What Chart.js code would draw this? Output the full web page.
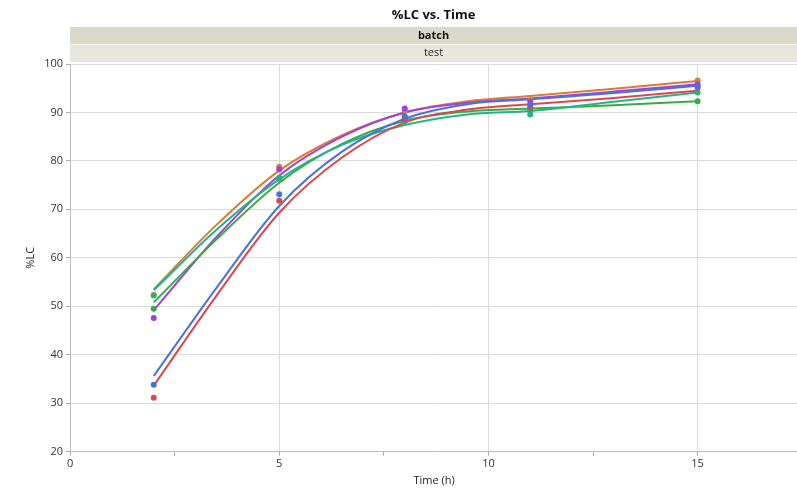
<!DOCTYPE html>
<html>
<head>
<meta charset="utf-8">
<script src="https://cdn.jsdelivr.net/npm/chart.js@4"></script>
<style>
  html, body { margin: 0; padding: 0; background: #fff; overflow: hidden; }
  #wrap { width: 802px; height: 488px; }
</style>
</head>
<body>
<div id="wrap"><canvas id="chart"></canvas></div>
<script>
// sample times (h)
const times = [2, 5, 8, 11, 15];

// measured %LC per batch
const bluePts   = [33.8, 73.1, 89.2, 91.5, 95.4];
const redPts    = [31.1, 71.8, 88.5, 91.0, 95.1];
const tealPts   = [52.2, 76.5, 88.2, 89.6, 94.1];
const greenPts  = [49.5, 76.3, 88.8, 90.4, 92.3];
const purplePts = [47.6, 78.3, 90.8, 92.2, 95.8];
const orangePts = [52.3, 78.8, 90.4, 92.5, 96.6];

// fitted curves
const fitTimes  = [2, 3.5, 5, 6.5, 8, 9.5, 11, 13, 15];
const blueFit   = [35.6, 53.8, 70.7, 81.9, 88.7, 91.7, 92.7, 94.0, 95.5];
const redFit    = [33.6, 52.2, 69.3, 80.7, 87.9, 90.6, 91.7, 93.0, 94.5];
const tealFit   = [53.3, 65.8, 76.2, 83.3, 87.4, 89.6, 90.3, 92.2, 94.1];
const greenFit  = [50.8, 63.8, 75.5, 83.5, 88.3, 90.2, 90.8, 91.5, 92.3];
const purpleFit = [49.2, 64.3, 77.0, 85.0, 90.0, 92.0, 92.9, 94.3, 95.8];
const orangeFit = [53.5, 66.8, 78.0, 85.3, 90.0, 92.3, 93.4, 94.9, 96.5];

const xTicks = [0, 2.5, 5, 7.5, 10, 12.5, 15];

const colors = {
    blue: '#4574e0',
    red: '#dc4650',
    teal: '#24b488',
    green: '#3aab44',
    purple: '#a53ee2',
    orange: '#d97d32'
};

const toXY = (xs, ys) => xs.map((x, i) => ({ x: x, y: ys[i] }));

const series = [
    ['blue', bluePts, blueFit],
    ['red', redPts, redFit],
    ['teal', tealPts, tealFit],
    ['green', greenPts, greenFit],
    ['purple', purplePts, purpleFit],
    ['orange', orangePts, orangeFit]
];

const datasets = [];
series.forEach(([name, pts, fit]) => {
    datasets.push({
        label: name + ' fit',
        data: toXY(fitTimes, fit),
        showLine: true,
        borderColor: colors[name],
        borderWidth: 2,
        pointRadius: 0,
        cubicInterpolationMode: 'monotone',
        order: 1
    });
    datasets.push({
        label: name,
        data: toXY(times, pts),
        showLine: false,
        backgroundColor: colors[name],
        borderWidth: 0,
        pointRadius: 3,
        order: 0
    });
});

// title + grouping bands above the plot
const headerPlugin = {
    id: 'header',
    beforeDraw(chart) {
        const { ctx, chartArea } = chart;
        const left = chartArea.left, right = 797;
        ctx.save();
        ctx.fillStyle = '#dbd9c9';
        ctx.fillRect(left, 27, chart.width - left, 17);
        ctx.fillStyle = '#e8e7de';
        ctx.fillRect(left, 44, chart.width - left, 18);
        ctx.fillStyle = '#f4f3ee';
        ctx.fillRect(left, 44, chart.width - left, 1);
        ctx.textAlign = 'center';
        ctx.textBaseline = 'middle';
        const cx = (left + right) / 2;
        ctx.fillStyle = '#111';
        ctx.font = 'bold 13px "Open Sans"';
        ctx.fillText('%LC vs. Time', cx, 15);
        ctx.font = 'bold 11px "Open Sans"';
        ctx.fillText('batch', cx, 35.5);
        ctx.font = '11px "Open Sans"';
        ctx.fillStyle = '#333';
        ctx.fillText('test', cx, 53);
        ctx.restore();
    }
};

new Chart(document.getElementById('chart'), {
    type: 'scatter',
    data: { datasets },
    plugins: [headerPlugin],
    options: {
        responsive: true,
        maintainAspectRatio: false,
        animation: false,
        layout: { padding: { top: 64, left: 24, right: 0, bottom: 0 } },
        plugins: {
            legend: { display: false },
            tooltip: { enabled: false },
            title: { display: false }
        },
        scales: {
            x: {
                type: 'linear',
                min: 0,
                max: 17.4,
                afterBuildTicks: (scale) => {
                    scale.ticks = xTicks.map(v => ({ value: v }));
                },
                ticks: {
                    autoSkip: false,
                    maxRotation: 0,
                    padding: 2,
                    color: '#333',
                    font: { family: 'Open Sans', size: 11 },
                    callback: (v) => (v % 5 === 0 ? String(v) : '')
                },
                grid: {
                    color: (c) => (c.tick && c.tick.value % 5 === 0 && c.tick.value !== 0 ? '#dadada' : 'transparent'),
                    tickColor: '#a8a8a8',
                    tickLength: 4
                },
                border: { color: '#bdbdbd', width: 1 },
                title: {
                    display: true,
                    text: 'Time (h)',
                    color: '#222',
                    font: { family: 'Open Sans', size: 11 },
                    padding: { top: 1, bottom: 1 }
                }
            },
            y: {
                min: 20,
                max: 100,
                ticks: {
                    stepSize: 10,
                    padding: 3,
                    color: '#333',
                    font: { family: 'Open Sans', size: 11 }
                },
                grid: {
                    color: '#dadada',
                    tickColor: '#a8a8a8',
                    tickLength: 4
                },
                border: { color: '#bdbdbd', width: 1 },
                title: {
                    display: true,
                    text: '%LC',
                    color: '#222',
                    font: { family: 'Open Sans', size: 11 },
                    padding: { top: 0, bottom: 4 }
                }
            }
        }
    }
});
</script>
</body>
</html>
